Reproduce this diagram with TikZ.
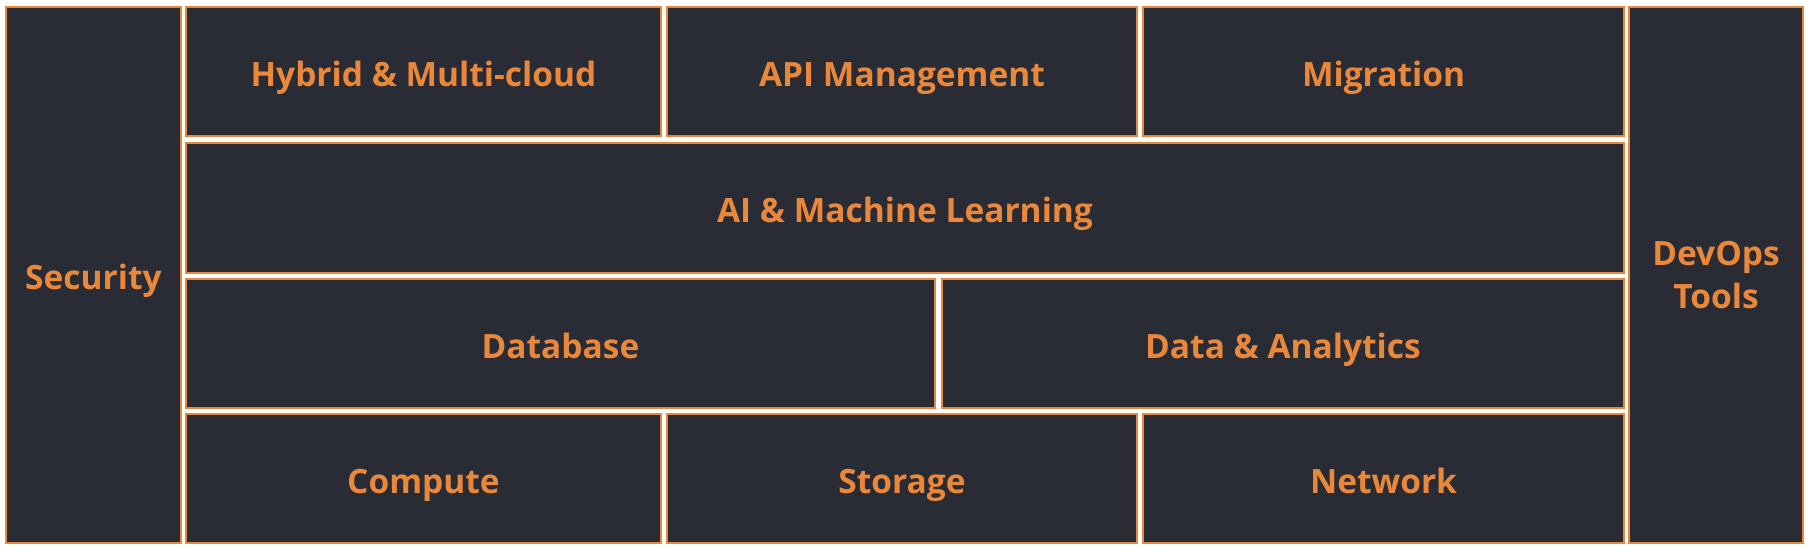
\documentclass[tikz,border=0pt]{standalone}
\usepackage{fontspec}
\setmainfont{Open Sans}
\usepackage{xcolor}
\usepackage{tikz}
\definecolor{Ember}{RGB}{233,135,58}
\definecolor{Slate}{RGB}{41,44,53}
\tikzset{
  tile/.style={draw=Ember,fill=Slate,line width=2pt,text=Ember,align=center,
    inner sep=0pt,font=\fontsize{33.5}{43}\selectfont\bfseries},
  oneline/.style={text height=33pt,text depth=4pt}
}
\newcommand{\Tile}[7][oneline]{% options name x1 y1 x2 y2 label
\node[tile,#1,minimum width={#5-#3-2},minimum height={#6-#4-2}]
  (#2) at ({(#3+#5)/2},{(#4+#6)/2}) {#7};
}

\begin{document}
\begin{tikzpicture}[x=1pt,y=-1pt]
\useasboundingbox[fill=white] (0,0) rectangle (1809,550);
% side columns
\Tile{sec}{5}{6}{182}{544}{Security}
\Tile[]{dev}{1628}{6}{1804}{544}{DevOps\\Tools}
% top row
\Tile{hyb}{185}{6}{662}{137}{Hybrid \& Multi-cloud}
\Tile{api}{666}{6}{1138}{137}{API Management}
\Tile{mig}{1142}{6}{1625}{137}{Migration}
% middle rows
\Tile{ai}{185}{142}{1625}{274}{AI \& Machine Learning}
\Tile{db}{185}{278}{936}{409}{Database}
\Tile{dat}{941}{278}{1625}{409}{Data \& Analytics}
% bottom row
\Tile{cmp}{185}{413}{662}{544}{Compute}
\Tile{sto}{666}{413}{1138}{544}{Storage}
\Tile{net}{1142}{413}{1625}{544}{Network}
\end{tikzpicture}
\end{document}
